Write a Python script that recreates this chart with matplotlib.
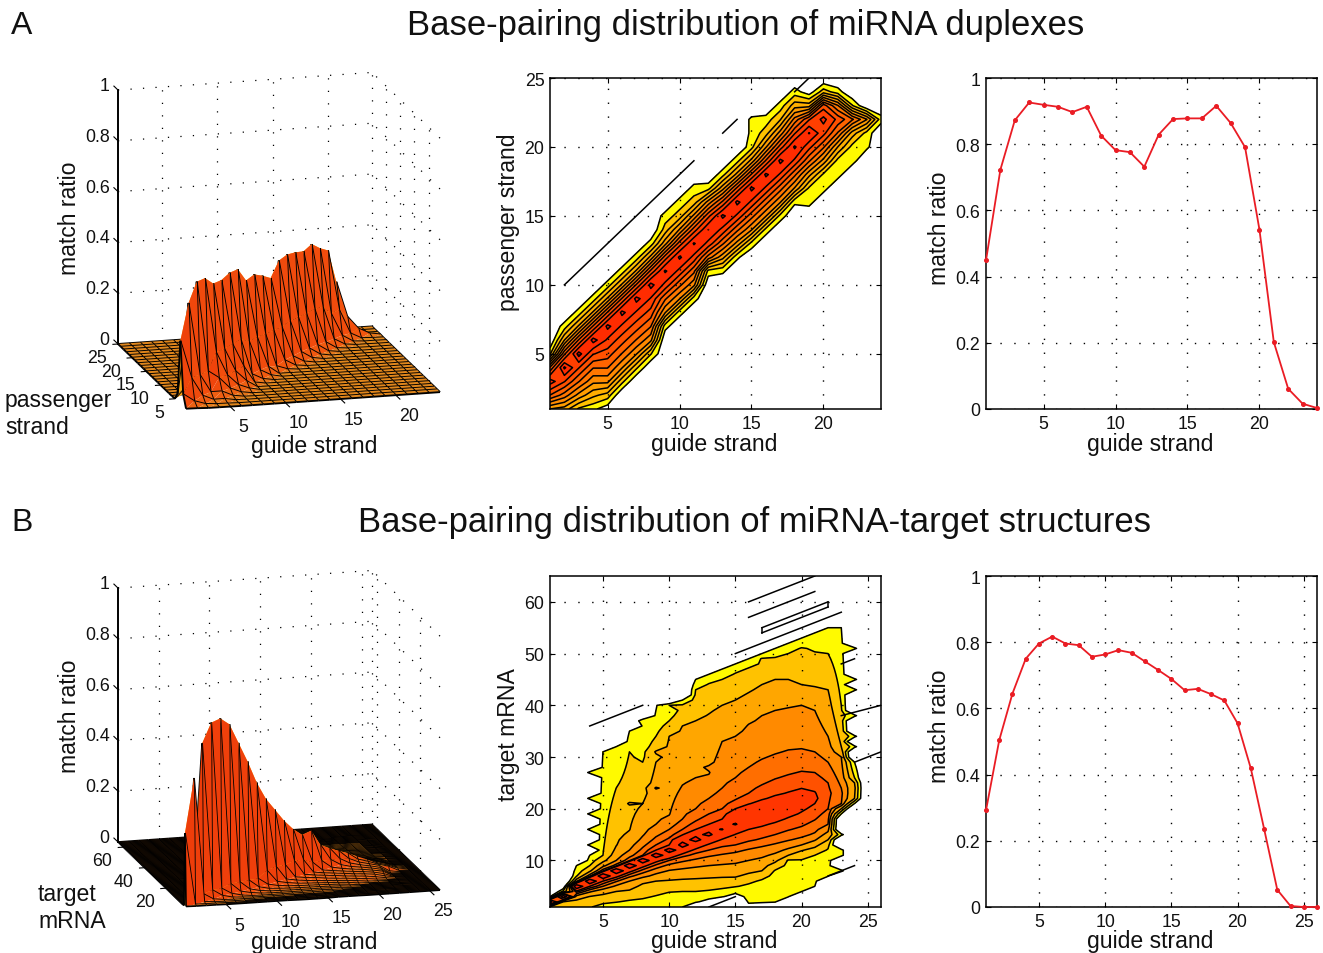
import numpy as np
import matplotlib
matplotlib.use("Agg")
import matplotlib.pyplot as plt
from matplotlib.colors import LinearSegmentedColormap
from mpl_toolkits.mplot3d import proj3d
from mpl_toolkits.mplot3d.art3d import Poly3DCollection

plt.rcParams['font.family'] = ['Liberation Sans', 'DejaVu Sans']
W, H = 1323, 954
n = float('nan')

# ---- line panels: match ratio per guide-strand position
a_guide = list(range(1, 25))
a_match = [.449, .723, .872, .926, .919, .913, .897, .913, .826, .782, .776, .732,
           .829, .876, .878, .878, .916, .864, .791, .542, .202, .061, .016, .003]
b_guide = list(range(1, 27))
b_match = [.292, .504, .645, .750, .796, .817, .796, .791, .756, .763, .776, .768, .742,
           .716, .689, .655, .659, .643, .624, .555, .419, .237, .052, .003, 0, 0]

# ---- panel A matrix: per guide position, first passenger position and the
#      ratios (per mille) read upward from it
a_first = [1, 1, 1, 1, 1, 3, 4, 5, 7, 8, 9, 11, 11, 12, 13, 14, 15, 16, 16, 17, 18, 19, 20, 22]
a_cols = [
    [4, 50, 250, 30, 1.0],
    [3, 20, 100, 385, 45, 4, .8],
    [1, 6, 28, 100, 455, 55, 4.5, .8],
    [.7, 2.5, 9, 28, 100, 455, 55, 4.5, .8],
    [.4, 1.6, 9, 28, 70, 160, 420, 55, 4.5, .8],
    [1.4, 8, 26, 68, 160, 420, 55, 4.5, .8],
    [1.3, 8, 26, 70, 165, 435, 55, 4.5, .8],
    [1.2, 9, 28, 75, 170, 435, 60, 5, .8],
    [.8, 8, 30, 150, 377, 70, 6, 1.5, .8],
    [.8, 8, 32, 150, 387, 70, 8, 1.5, .8],
    [.8, 9, 32, 150, 368, 70, 9, 1.5, .8],
    [.9, 20, 150, 345, 80, 10, .9],
    [.7, 5, 30, 150, 400, 60, 6, .9],
    [.7, 6, 32, 160, 410, 60, 5, .9],
    [.9, 8, 35, 160, 405, 55, 5, .9, .7, .7],
    [.9, 8, 35, 160, 395, 55, 7, 1.6, .8],
    [.9, 8, 35, 165, 410, 70, 10, 2, .8],
    [.7, 7, 32, 160, 380, 90, 18, 3, .8],
    [.8, 1, 5, 30, 120, 357, 90, 3, .4],
    [.8, 1, 6, 30, 120, 220, 70, 1.6],
    [.8, .9, 4, 25, 80, 15, .8],
    [.8, .9, 3, 30, 1.2],
    [.7, .9, 8, .3],
    [.8],
]
a_levels = [.0006, .00113, .00213, .00402, .00757, .01427, .0269, .0507, .0956, .18, .34]
a_stray = [(2, 10, 11, 19), (13, 21, 14, 22), (18, 24, 19, 25)]

# ---- panel B: contour crossings read per guide position (1..26)
b_levels = [.0015, .003, .006, .012, .02, .03, .045, .18]
b_ridge = [2, 3, 5, 6, 7, 8, 9, 10, 11, 12, 13, 14, 15, 16, 17, 18, 19, 20, 21, 22, 22, 23, 23, 24, n, n]
b_peak = [.29, .50, .625, .70, .71, .68, .60, .52, .43, .36, .31, .26, .22, .19, .16, .137, .117,
          .10, .084, .065, .05, .033, .022, .007, 0, 0]
b_up = [
    [3, 4.5, 9, 11, 31, 32, 35, 37, 39, 40, 41, 45, 46, 47, 48, 49, 50, 51, 52, 53, 54, 55, 55, 29, n, n],
    [2.8, 4.1, 6.8, 9, 11, 24, 31, 37, 39.7, 40, 40.5, 43, 44.5, 45, 46.5, 47.5, 48.5, 49.5, 50, 50.3, 50.5, 50, 40, 26, n, n],
    [2.6, 3.8, 6.2, 7.7, 9.6, 12.5, 15.5, 21, 29, 34, 36, 37, 38.5, 40, 41, 42.5, 44, 45, 45, 44, 43.5, 43, 32, 25, n, n],
    [2.5, 3.6, 5.9, 7.2, 8.8, 10, 12, 14.5, 17, 18.4, 24.5, 26, 26.5, 33, 34, 36.5, 38, 39, 39.7, 40, 39, 34, 30, n, n, n],
    [2.4, 3.4, 5.7, 6.9, 8.2, 9.2, 10.5, 12.5, 14.5, 16, 18, 20, 22, 24, 26, 28, 29.5, 30.5, 31.3, 31.5, 31, 29, 24, n, n, n],
    [2.3, 3.3, 5.6, 6.7, 7.9, 8.8, 9.8, 11, 13, 14.3, 16, 17.5, 19, 20, 21.5, 23, 24.5, 25.7, 26.5, 27.2, 27, 25, n, n, n, n],
    [2.2, 3.2, 5.5, 6.5, 7.6, 8.6, 9.5, 10.7, 12, 13, 14.8, 16, 17, 18, 20, 20.8, 21.5, 22.3, 23.1, 23.9, 23.4, n, n, n, n, n],
    [2.1, 3.1, 5.3, 6.3, 7.3, 8.3, 9.3, 10.4, 11.5, 12.5, 13.6, 14.8, 15.8, 16.5, n, n, n, n, n, n, n, n, n, n, n, n],
]
b_lo = [
    [.3, .3, .3, .3, .3, .3, .3, .3, .3, .5, 1, 1.6, 2.2, 2.8, 3.3, 1.2, 1.3, 1.5, 2.5, 3.8, 5, 6.5, 19, 21, n, n],
    [.5, .5, .5, .8, 1.5, 1.9, 2.3, 2.5, 3.2, 3.9, 4, 4, 4.2, 4.5, 4.9, 5.7, 6.6, 8.5, 10.8, 10.4, 11, 12.6, 19.5, 21.5, n, n],
    [1.2, 2, 2.7, 3.1, 3.6, 4, 4.3, 5.8, 6, 6.2, 6.4, 6.5, 6.6, 6.7, 6.7, 7.4, 8, 9.5, 11, 11.9, 12.6, 14, 20, 22, n, n],
    [1.5, 2.3, 3.2, 3.9, 4.6, 5.2, 6, 6.6, 7.4, 8.1, 8.4, 8.7, 9, 9.2, 9.4, 10, 10.5, 11.3, 12.2, 13, 13.8, 15.5, 20.3, n, n, n],
    [1.7, 2.6, 3.6, 4.4, 5, 5.9, 6.8, 7.6, 8.5, 9.3, 9.8, 10.3, 10.8, 11.2, 11.6, 12.2, 12.7, 13.2, 13.8, 14.3, 15.2, 17, 20.6, n, n, n],
    [1.8, 2.8, 3.9, 4.8, 5.6, 6.5, 7.4, 8.3, 9.2, 10, 10.7, 11.3, 12, 12.6, 13, 13.6, 14.2, 15, 15.8, 16.5, 17.8, 20, n, n, n, n],
    [1.85, 2.85, 4.1, 5, 6, 6.9, 7.9, 8.9, 9.9, 10.7, 11.6, 12.7, 13.6, 14.4, 15.2, 16, 16.8, 17.5, 18.4, 19.4, 21, n, n, n, n, n],
    [1.9, 2.9, 4.6, 5.6, 6.6, 7.5, 8.5, 9.5, 10.5, 11.4, 12.4, 13.3, 14.3, 15.5, n, n, n, n, n, n, n, n, n, n, n, n],
]
# isolated cells: guide, target, ratio
b_islands = [(4, 13, .002), (4, 16, .002), (4, 19, .002), (4, 22, .002), (4, 27, .002),
             (24, 32, .002), (24, 34, .002), (24, 38, .002), (24, 43, .002), (24, 45, .002),
             (24, 51, .002), (23, 15, .002), (23, 11, .002), (23, 12, .002), (23, 8, .002),
             (9, 31, .0065), (7, 21, .0065), (9, 24, .013), (13, 28, .013),
             (18, 41, .0065), (17, 49, .0032), (20, 51, .0032), (15, 17, .2)]
b_stray = [(4, 36, 8, 40), (15, 50, 23, 58), (16, 60, 21, 65), (16, 57, 21, 62),
           (17, 54, 22, 59), (22, 59, 22, 60), (22, 60, 17, 55), (17, 55, 17, 54),
           (23, 38, 26, 40), (24, 29, 26, 31), (23, 48, 24, 49), (22, 7, 24, 9), (13, 1, 15, 3)]

a_tick_x = [5, 10, 15, 20]
a_tick_y = [5, 10, 15, 20, 25]
b_tick_x = [5, 10, 15, 20, 25]
b_tick_y3 = [20, 40, 60]
b_tick_y = [10, 20, 30, 40, 50, 60]
ratio_ticks = [0, .2, .4, .6, .8, 1]
ratio_labels = ['0', '0.2', '0.4', '0.6', '0.8', '1']

# ---- build matrices
a_x = np.arange(1, 25)
a_y = np.arange(1, 26)
a_z = np.zeros((25, 24))
for j, (f, c) in enumerate(zip(a_first, a_cols)):
    for k, v in enumerate(c):
        if f + k <= 25:
            a_z[f + k - 1, j] = v / 1000.

b_x = np.arange(1, 27)
b_y = np.arange(1, 66)
b_z = np.zeros((65, 26))
FLOOR = np.log10(.0004)
for j in range(26):
    if not b_peak[j] > 0:
        continue
    pts = [(b_ridge[j], np.log10(b_peak[j]))]
    for k, lv in enumerate(b_levels):
        if b_up[k][j] == b_up[k][j]:
            pts.append((b_up[k][j], np.log10(lv)))
        if b_lo[k][j] == b_lo[k][j]:
            pts.append((b_lo[k][j], np.log10(lv)))
    pts.sort()
    ys = np.array([p[0] for p in pts])
    ls = np.array([p[1] for p in pts])
    ys = np.r_[ys[0] - .8, ys, ys[-1] + .8]
    ls = np.r_[FLOOR, ls, FLOOR]
    col = np.interp(b_y, ys, ls, left=FLOOR, right=FLOOR)
    b_z[:, j] = np.where(col <= FLOOR, 0, 10 ** col)
for gx, gy, v in b_islands:
    b_z[gy - 1, gx - 1] = max(b_z[gy - 1, gx - 1], v)

fig = plt.figure(figsize=(W / 100, H / 100), dpi=100, facecolor='white')


def rect(l, t, r, b):
    return [l / W, 1 - b / H, (r - l) / W, (b - t) / H]


def ftext(x, y, s, **kw):
    kw.setdefault('ha', 'center')
    kw.setdefault('va', 'center')
    kw.setdefault('color', '#111111')
    fig.text(x / W, 1 - (y + 2) / H, s, **kw)


TICK = 12.8
LAB = 16.6


def style2d(ax, xlim, ylim, xt, yt, yl=None):
    ax.set_xlim(xlim)
    ax.set_ylim(ylim)
    ax.set_xticks(xt)
    ax.set_yticks(yt)
    if yl:
        ax.set_yticklabels(yl)
    ax.tick_params(direction='in', length=3.5, width=.8, top=True, right=True,
                   labelsize=TICK, pad=4, labelcolor='#111111')
    ax.grid(True, color='k', lw=1, ls=(0, (1, 9)))
    ax.set_axisbelow(False)
    for s in ax.spines.values():
        s.set_linewidth(1.1)


def contour_panel(rc, x, y, z, levels, stray, xt, yt):
    ax = fig.add_axes(rect(*rc))
    lz = np.log10(np.maximum(z, .0003))
    ll = np.log10(levels)
    cm = plt.get_cmap('autumn_r')
    colors = [cm(.02)] + [cm(t) for t in np.linspace(.24, .9, len(levels) - 1)]
    ax.contourf(x, y, lz, levels=list(ll) + [1], colors=colors)
    ax.contour(x, y, lz, levels=ll, colors='k', linewidths=1.1, linestyles='solid')
    for x0, y0, x1, y1 in stray:
        ax.plot([x0, x1], [y0, y1], color='k', lw=1.1, clip_on=True)
    style2d(ax, (x[0], x[-1]), (y[0], y[-1]), xt, yt)
    return ax


def line_panel(rc, x, y, xt):
    ax = fig.add_axes(rect(*rc))
    ax.plot(x, y, color='#ea1c24', lw=1.3, marker='o', ms=2.6, clip_on=False, zorder=5)
    style2d(ax, (x[0], x[-1]), (0, 1), xt, ratio_ticks, ratio_labels)


face_cmap = LinearSegmentedColormap.from_list('f', ['#ee3c0a', '#f2560f', '#dd841e', '#f7a012', '#fbb018'])
EL, AZ = np.radians(15), np.radians(-105)
VIEW = np.array([np.cos(EL) * np.cos(AZ), np.cos(EL) * np.sin(AZ), np.sin(EL)])


def tri_shade(p, xr, yr):
    # orientation of a triangle in the unit cube -> colour value
    a = (p[1] - p[0]) / [xr, yr, 1]
    b = (p[2] - p[0]) / [xr, yr, 1]
    nv = np.cross(a, b)
    nv = nv / (np.linalg.norm(nv) + 1e-12)
    if nv[2] < 0:
        nv = -nv
    return (nv[1] + 1) / 2


def surface_panel(bl, fr, x, y, z, xt, yt, lw, floor_color):
    ax = fig.add_axes([0, 0, .6, .6 * W / H], projection='3d', proj_type='ortho', computed_zorder=False)
    ax.set_xlim(x[0], x[-1])
    ax.set_ylim(y[0], y[-1])
    ax.set_zlim(0, 1)
    ax.set_xticks([])
    ax.set_yticks([])
    ax.set_zticks([])
    ax.set_box_aspect((1, 1, 1))
    ax.view_init(elev=15, azim=-105)
    ax.set_axis_off()
    # place the cube on the figure
    for _ in range(3):
        ax.apply_aspect()
        M = ax.get_proj()
        u0, v0, _w = proj3d.proj_transform(x[0], y[-1], 0, M)
        u1, v1, _w = proj3d.proj_transform(x[-1], y[0], 0, M)
        d = ax.transData.transform([(u0, v0), (u1, v1)])
        s = (fr[0] - bl[0]) / (d[1, 0] - d[0, 0])
        p = ax.get_position(original=True)
        ax.set_position([p.x0, p.y0, p.width * s, p.height * s])
        ax.apply_aspect()
        d = ax.transData.transform([(u0, v0), (u1, v1)])
        p = ax.get_position(original=True)
        ax.set_position([p.x0 + (bl[0] - d[0, 0]) / W, p.y0 + (H - bl[1] - d[0, 1]) / H, p.width, p.height])
    ax.apply_aspect()
    M = ax.get_proj()

    def label(px_, py_, pz_, s, ha):
        # tick label placed where its 3D anchor lands on the figure
        u, v, _w = proj3d.proj_transform(px_, py_, pz_, M)
        dx_, dy_ = ax.transData.transform((u, v))
        fig.text(dx_ / W, dy_ / H, s, ha=ha, va='center', fontsize=TICK, color='#111111')

    xr, yr = x[-1] - x[0], y[-1] - y[0]
    dots = dict(color='k', lw=.9, ls=(0, (1, 9)), zorder=1)
    for t in ratio_ticks[1:]:
        ax.plot([x[0], x[-1]], [y[-1], y[-1]], [t, t], **dots)
        ax.plot([x[-1], x[-1]], [y[0], y[-1]], [t, t], **dots)
    for t in xt:
        if t < x[-1]:
            ax.plot([t, t], [y[-1], y[-1]], [0, 1], **dots)
    ax.plot([x[-1], x[-1]], [y[-1], y[-1]], [0, 1], **dots)
    for t in yt:
        if t < y[-1]:
            ax.plot([x[-1], x[-1]], [t, t], [0, 1], **dots)
    # surface: cells split along the ridge diagonal, grid lines with them.
    # Each piece slides along the line of sight (no visible change in an
    # orthographic view) so that the drawing order runs back to front by cell.
    scale = np.array([xr, yr, 1.])
    polys, faces, edges = [], [], []
    none = (0, 0, 0, 0)
    black = (0, 0, 0, 1)

    def add(verts, face, edge, key):
        v = np.array(verts)
        depth = ((v / scale) @ VIEW).mean()
        polys.append(v + (key * 1e-4 - depth) * VIEW * scale)
        faces.append(face)
        edges.append(edge)

    gx, gy = np.meshgrid(x.astype(float), y.astype(float))
    P = np.dstack([gx, gy, z])
    ny_, nx_ = len(y), len(x)
    for i in range(ny_ - 1, -1, -1):
        for j in range(nx_ - 1, -1, -1):
            rank = (ny_ - 1 - i) * nx_ + (nx_ - 1 - j)
            if i + 1 < ny_ and j + 1 < nx_:
                p00, p01, p10, p11 = P[i, j], P[i, j + 1], P[i + 1, j], P[i + 1, j + 1]
                if max(p00[2], p01[2], p10[2], p11[2]) < .004:
                    add([p00, p01, p11, p10], matplotlib.colors.to_rgba(floor_color), none, rank)
                else:
                    back, front = [p00, p11, p10], [p00, p01, p11]
                    add(back, face_cmap(tri_shade(np.array(back), xr, yr)), none, rank)
                    add(front, face_cmap(tri_shade(np.array(front), xr, yr)), none, rank + .2)
            if j + 1 < nx_:
                add([P[i, j], P[i, j + 1]], none, black, rank + .4)
            if i + 1 < ny_:
                add([P[i, j], P[i + 1, j]], none, black, rank + .4)
    coll = Poly3DCollection(polys, facecolors=faces, edgecolors=edges, linewidths=lw, zorder=3)
    ax.add_collection3d(coll)
    # axis lines, ticks, labels
    ax.plot([x[0], x[0]], [y[-1], y[-1]], [0, 1], color='k', lw=1.4, zorder=4)
    for t, lab in zip(ratio_ticks, ratio_labels):
        ax.plot([x[0], x[0]], [y[-1], y[-1] + .06 * yr], [t, t], color='k', lw=.8, zorder=4)
        label(x[0] - .033 * xr, y[-1], t + .02, lab, 'right')
    for t in xt:
        ax.plot([t, t], [y[0], y[0] - .06 * yr], [0, 0], color='k', lw=.8, zorder=4)
        label(t, y[0] - .19 * yr, -.03, str(t), 'center')
    for t in yt:
        ax.plot([x[0], x[0] - .02 * xr], [t, t], [0, 0], color='k', lw=.8, zorder=4)
        label(x[0] - .043 * xr, t, -.05, str(t), 'right')
    return ax


# row A
surface_panel((118, 345), (440, 394), a_x, a_y, a_z, a_tick_x, a_tick_y, 1.35, '#e0861c')
contour_panel((550, 79, 881, 410), a_x, a_y, a_z, a_levels, a_stray, a_tick_x, a_tick_y)
line_panel((986, 79, 1317, 410), a_guide, a_match, a_tick_x)
# row B
surface_panel((118, 843), (440, 892), b_x, b_y, b_z, b_tick_x, b_tick_y3, 1.2, '#2a1606')
contour_panel((550, 577, 881, 908), b_x, b_y, b_z, b_levels, b_stray, b_tick_x, b_tick_y)
line_panel((986, 577, 1317, 908), b_guide, b_match, b_tick_x)

# text
ftext(22, 24, 'A', fontsize=23)
ftext(22, 521, 'B', fontsize=23)
ftext(746, 24, 'Base-pairing distribution of miRNA duplexes', fontsize=24.9)
ftext(755, 521, 'Base-pairing distribution of miRNA-target structures', fontsize=24.9)
for cx, cy in [(314, 445), (714, 443), (1150, 443), (314, 941), (714, 940), (1150, 940)]:
    ftext(cx, cy, 'guide strand', fontsize=LAB)
ftext(70, 216, 'match ratio', fontsize=LAB, rotation=90)
ftext(70, 714, 'match ratio', fontsize=LAB, rotation=90)
ftext(509, 220, 'passenger strand', fontsize=LAB, rotation=90)
ftext(509, 733, 'target mRNA', fontsize=LAB, rotation=90)
ftext(940, 226, 'match ratio', fontsize=LAB, rotation=90)
ftext(940, 724, 'match ratio', fontsize=LAB, rotation=90)
ftext(5, 399, 'passenger', fontsize=LAB, ha='left')
ftext(5, 426, 'strand', fontsize=LAB, ha='left')
ftext(38, 893, 'target', fontsize=LAB, ha='left')
ftext(38, 920, 'mRNA', fontsize=LAB, ha='left')

fig.savefig('out.png', dpi=100)
